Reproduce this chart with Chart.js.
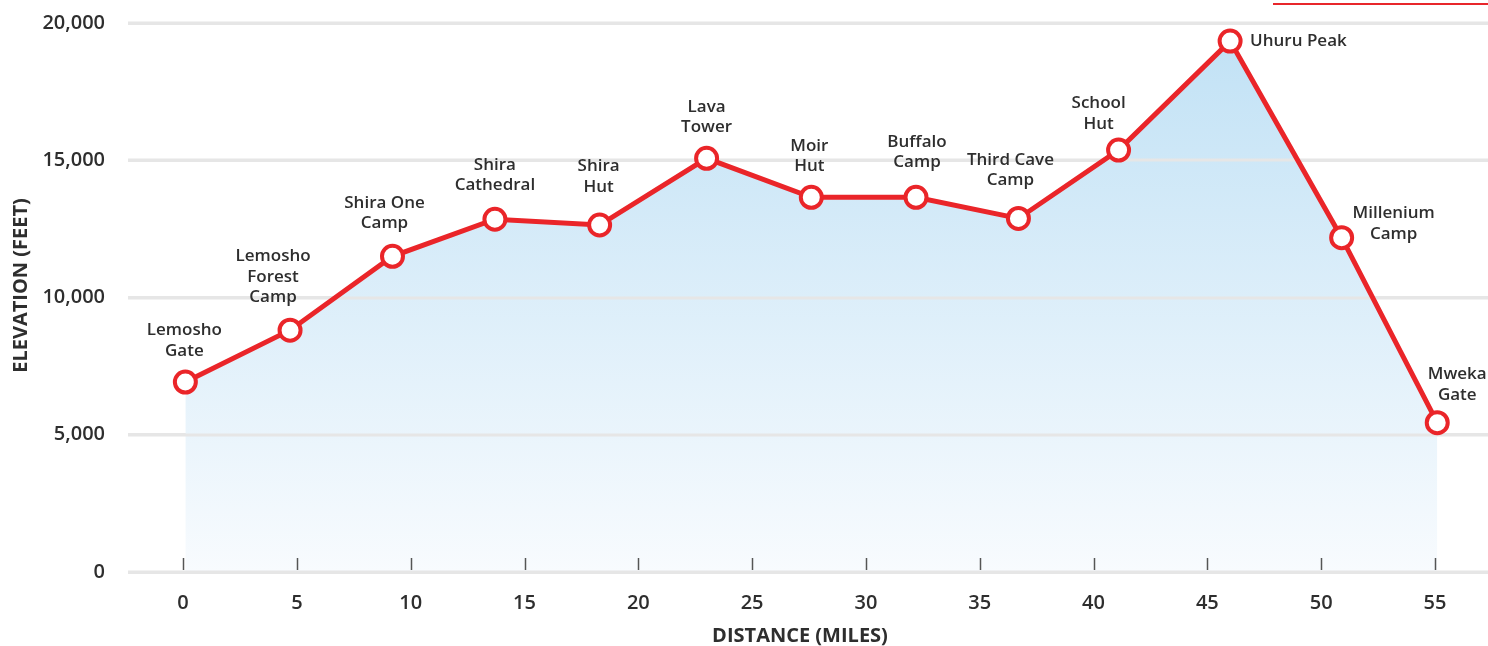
<!DOCTYPE html>
<html><head><meta charset="utf-8">
<script src="https://cdn.jsdelivr.net/npm/chart.js@4"></script>
<style>
html,body{margin:0;padding:0;background:#fff;}
#wrap{position:relative;width:1488px;height:646px;overflow:hidden;}
#topline{position:absolute;left:1273px;top:3px;width:215px;height:2px;background:#e8262b;}
</style></head><body>
<div id="wrap"><canvas id="c" width="1488" height="646"></canvas><div id="topline"></div></div>
<script>
// ---- data ----
const stopNames = [
  ["Lemosho", "Gate"],
  ["Lemosho", "Forest", "Camp"],
  ["Shira One", "Camp"],
  ["Shira", "Cathedral"],
  ["Shira", "Hut"],
  ["Lava", "Tower"],
  ["Moir", "Hut"],
  ["Buffalo", "Camp"],
  ["Third Cave", "Camp"],
  ["School", "Hut"],
  ["Uhuru Peak"],
  ["Millenium", "Camp"],
  ["Mweka", "Gate"]
];
const distanceMiles = [0.1, 4.7, 9.2, 13.7, 18.3, 23.0, 27.6, 32.2, 36.7, 41.1, 46.0, 50.9, 55.1];
const elevationFeet = [6920, 8810, 11500, 12850, 12640, 15070, 13650, 13650, 12880, 15370, 19340, 12180, 5440];
const xTickValues = [0, 5, 10, 15, 20, 25, 30, 35, 40, 45, 50, 55];
const yTickValues = [0, 5000, 10000, 15000, 20000];
const xAxisTitle = "DISTANCE (MILES)";
const yAxisTitle = "ELEVATION (FEET)";

// ---- label placement (style) ----
const labelPlacement = [
  {dx: -1, dy: -31, align: "center"},
  {dx: -17, dy: -33, align: "center"},
  {dx: -8, dy: -33, align: "center"},
  {dx: 0, dy: -34, align: "center"},
  {dx: -1, dy: -38, align: "center"},
  {dx: 0, dy: -31, align: "center"},
  {dx: -2, dy: -31, align: "center"},
  {dx: 1, dy: -35, align: "center"},
  {dx: -8, dy: -38, align: "center"},
  {dx: -20, dy: -26, align: "center"},
  {dx: 20, dy: 0, align: "left"},
  {dx: 52, dy: -4, align: "center"},
  {dx: 20, dy: -28, align: "center"}
];

const RED = "#ea2529";
const TEXT = "#2e2e2e";
const GRID = "#e6e6e6";
const LABEL_FONT = '600 17px "Open Sans"';
const TICK_FONT = {family: "Open Sans", size: 20, weight: "600"};
const LINE_H = 20.5;

const overlay = {
  id: "overlay",
  beforeDatasetsDraw(chart) {
    const ctx = chart.ctx, y = chart.scales.y, a = chart.chartArea;
    ctx.save();
    ctx.strokeStyle = GRID;
    ctx.lineWidth = 3;
    yTickValues.forEach(v => {
      const py = Math.round(y.getPixelForValue(v));
      ctx.beginPath();
      ctx.moveTo(a.left, py);
      ctx.lineTo(a.right, py);
      ctx.stroke();
    });
    ctx.restore();
  },
  afterDatasetsDraw(chart) {
    const ctx = chart.ctx, x = chart.scales.x, y = chart.scales.y, a = chart.chartArea;
    ctx.save();
    ctx.strokeStyle = "#555";
    ctx.lineWidth = 1.5;
    const base = y.getPixelForValue(0);
    xTickValues.forEach(v => {
      const px = Math.round(x.getPixelForValue(v)) + 0.5;
      ctx.beginPath();
      ctx.moveTo(px, base - 14);
      ctx.lineTo(px, base - 2);
      ctx.stroke();
    });
    const meta = chart.getDatasetMeta(0);
    ctx.font = LABEL_FONT;
    ctx.fillStyle = TEXT;
    ctx.textBaseline = "middle";
    meta.data.forEach((pt, i) => {
      const lines = stopNames[i];
      const pl = labelPlacement[i];
      ctx.textAlign = pl.align;
      const n = lines.length;
      lines.forEach((ln, k) => {
        ctx.fillText(ln, pt.x + pl.dx, pt.y + pl.dy - (n - 1 - k) * LINE_H);
      });
    });
    ctx.font = 'bold 20px "Open Sans"';
    ctx.fillStyle = TEXT;
    ctx.textAlign = "center";
    ctx.textBaseline = "middle";
    ctx.fillText(xAxisTitle, (a.left + a.right) / 2 - 8, chart.height - 10);
    ctx.translate(21, (a.top + a.bottom) / 2 - 12);
    ctx.rotate(-Math.PI / 2);
    ctx.fillText(yAxisTitle, 0, 0);
    ctx.restore();
  }
};

function draw() {
  new Chart(document.getElementById("c"), {
    type: "line",
    data: {
      datasets: [{
        data: distanceMiles.map((d, i) => ({x: d, y: elevationFeet[i]})),
        borderColor: RED,
        borderWidth: 5,
        tension: 0,
        fill: "origin",
        backgroundColor: (c) => {
          const a = c.chart.chartArea;
          if (!a) return "#dff0fa";
          const g = c.chart.ctx.createLinearGradient(0, a.top, 0, a.bottom);
          g.addColorStop(0, "#c0e1f5");
          g.addColorStop(1, "#f8fbfe");
          return g;
        },
        pointRadius: 10.5,
        pointBorderWidth: 4,
        pointBackgroundColor: "#ffffff",
        pointBorderColor: RED,
        clip: false
      }]
    },
    options: {
      responsive: false,
      animation: false,
      events: [],
      devicePixelRatio: 1,
      layout: {autoPadding: false, padding: {top: 23, right: 0, left: 0, bottom: 0}},
      plugins: {
        legend: {display: false},
        tooltip: {enabled: false},
        filler: {drawTime: "beforeDatasetsDraw"}
      },
      scales: {
        x: {
          type: "linear",
          min: -2.42,
          max: 57.33,
          afterBuildTicks: (s) => { s.ticks = xTickValues.map(v => ({value: v})); },
          afterFit: (s) => { s.height = 74; s.paddingLeft = 0; s.paddingRight = 0; },
          grid: {display: false, drawTicks: false},
          border: {display: false},
          ticks: {font: TICK_FONT, color: TEXT, padding: 19, maxRotation: 0, autoSkip: false}
        },
        y: {
          min: 0,
          max: 20000,
          afterBuildTicks: (s) => { s.ticks = yTickValues.map(v => ({value: v})); },
          afterFit: (s) => { s.width = 128; s.paddingTop = 0; s.paddingBottom = 0; },
          grid: {color: GRID, lineWidth: 3, drawTicks: false},
          border: {display: false},
          ticks: {
            font: TICK_FONT, color: TEXT, padding: 23,
            callback: (v) => Number(v).toLocaleString("en-US")
          }
        }
      }
    },
    plugins: [overlay]
  });
}
if (document.fonts && document.fonts.load) {
  Promise.all([
    document.fonts.load('600 17px "Open Sans"'),
    document.fonts.load('bold 20px "Open Sans"')
  ]).then(draw, draw);
} else { draw(); }
</script>
</body></html>
